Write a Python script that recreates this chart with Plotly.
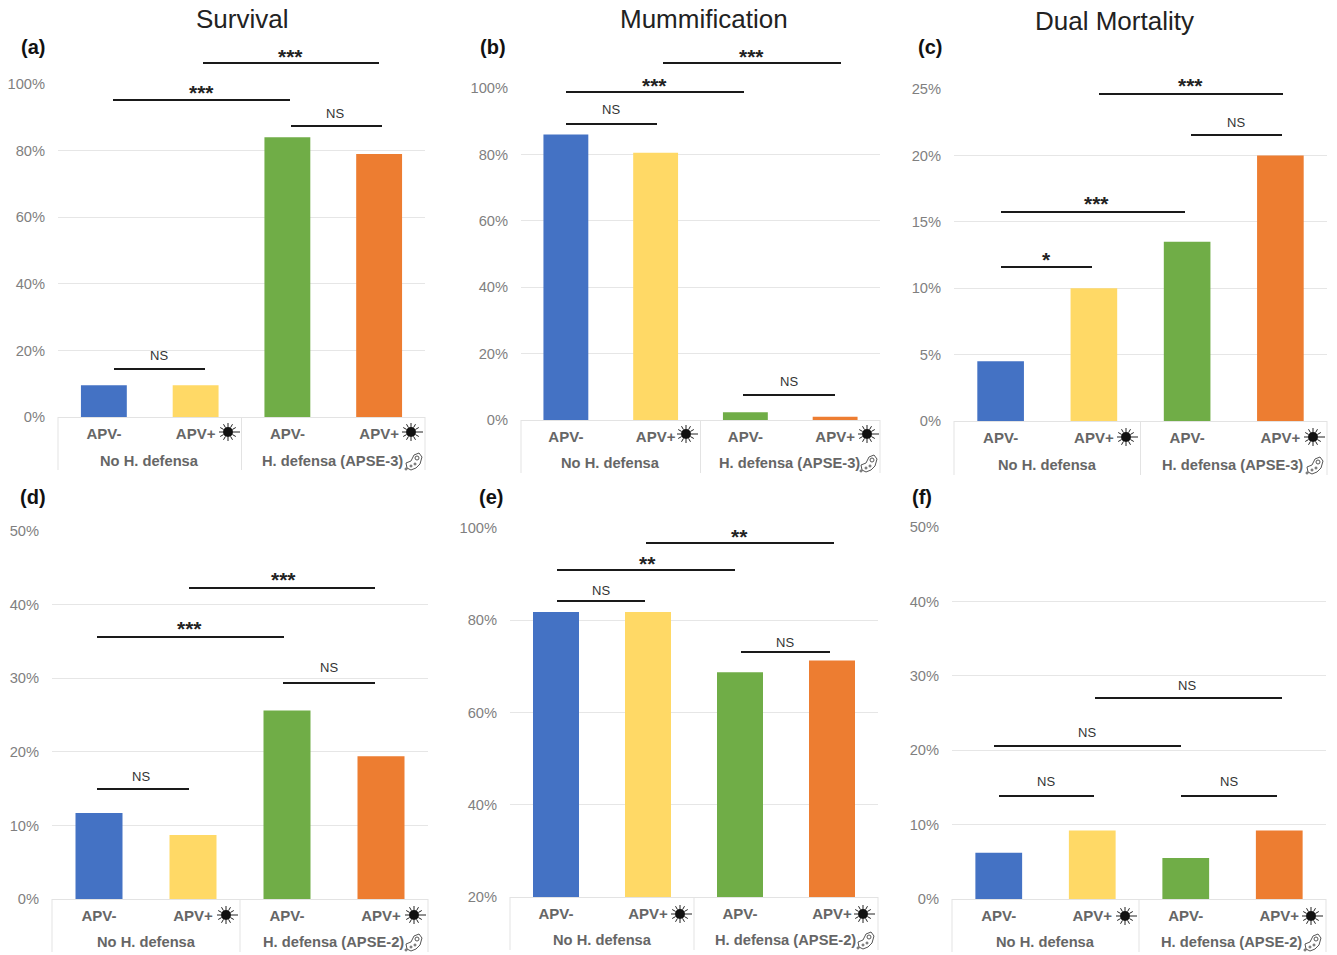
import math
import plotly.graph_objects as go

W, H = 1337, 955
treatments = ["APV-", "APV+", "APV-", "APV+"]
positions = [0, 1, 2, 3]
colors = ["#4472C4", "#FFD966", "#70AD47", "#ED7D31"]
group_none = "No H. defensa"
group_3 = "H. defensa (APSE-3)"
group_2 = "H. defensa (APSE-2)"

survival_3 = [9.5, 9.5, 84, 79]
mummy_3 = [86, 80.5, 2.3, 1]
dual_3 = [4.5, 10, 13.5, 20]
survival_2 = [11.7, 8.7, 25.6, 19.4]
mummy_2 = [81.8, 81.8, 68.7, 71.3]
dual_2 = [6.2, 9.2, 5.5, 9.2]

panel_values = [survival_3, mummy_3, dual_3, survival_2, mummy_2, dual_2]
panel_groups = [group_3, group_3, group_3, group_2, group_2, group_2]
# left, right, y pixel of axis min, y pixel of axis max, bottom of dividers, y of group label
panel_boxes = [(58, 425, 417, 84, 470, 461), (521, 880, 420, 88, 473, 463), (954, 1327, 421, 89, 475, 465),
               (52, 428, 899, 531, 952, 942), (510, 878, 897, 528, 950, 940), (952, 1326, 899, 527, 952, 942)]
panel_ranges = [(0, 100), (0, 100), (0, 25), (0, 50), (20, 100), (0, 50)]
panel_dticks = [20, 20, 5, 10, 20, 10]

titles = [("Survival", 242, 19), ("Mummification", 704, 19), ("Dual Mortality", 1114, 21)]
letters = [("(a)", 33, 47), ("(b)", 493, 47), ("(c)", 930, 47),
           ("(d)", 33, 497), ("(e)", 491, 497), ("(f)", 922, 497)]
brackets = [
    (203, 379, 63, "***", 290, 56), (113, 290, 100, "***", 201, 92), (291, 382, 126, "NS", 335, 113), (114, 205, 369, "NS", 159, 355),
    (663, 841, 63, "***", 751, 56), (566, 744, 92, "***", 654, 85), (566, 657, 124, "NS", 611, 110), (743, 835, 395, "NS", 789, 381),
    (1099, 1283, 94, "***", 1190, 86), (1191, 1282, 135, "NS", 1236, 123), (1001, 1185, 212, "***", 1096, 203), (1001, 1092, 267, "*", 1046, 260),
    (189, 375, 588, "***", 283, 579), (97, 284, 637, "***", 190, 628), (283, 375, 683, "NS", 329, 667), (97, 189, 789, "NS", 141, 776),
    (646, 834, 543, "**", 739, 536), (557, 735, 570, "**", 647, 563), (557, 645, 601, "NS", 601, 590), (741, 830, 652, "NS", 785, 642),
    (1095, 1282, 698, "NS", 1187, 685), (994, 1181, 746, "NS", 1087, 732), (999, 1094, 796, "NS", 1046, 781), (1181, 1277, 796, "NS", 1229, 781),
]
virus_icons = [(228, 432), (411, 432), (686, 434), (867, 434), (1126, 437), (1313, 437),
               (226, 915), (414, 915), (680, 914), (863, 914), (1125, 916), (1311, 916)]
microbe_icons = [(414, 461), (869, 463), (1315, 465), (414, 942), (866, 940), (1313, 942)]


def px(x):
    return x / W


def py(y):
    return 1 - (y - 8) / 939


fig = go.Figure()
layout = {}
shapes, annotations = [], []


def text(t, x, y, size, color="#111111", bold=False):
    annotations.append(dict(text=t, x=px(x), y=py(y), xref="paper", yref="paper", showarrow=False,
                            xanchor="center", yanchor="middle",
                            font=dict(family="Liberation Sans", size=size, color=color,
                                      weight="bold" if bold else "normal")))


def seg(x0, y0, x1, y1, color, width):
    shapes.append(dict(type="line", xref="paper", yref="paper", x0=px(x0), x1=px(x1), y0=py(y0), y1=py(y1),
                       line=dict(color=color, width=width)))


for i, (vals, grp, box, rng, dt) in enumerate(zip(panel_values, panel_groups, panel_boxes, panel_ranges, panel_dticks)):
    n = "" if i == 0 else str(i + 1)
    l, r, y0, y1, yb, yg = box
    fig.add_trace(go.Bar(x=positions, y=vals, marker=dict(color=colors, line=dict(width=0)),
                         width=0.5, xaxis="x" + n, yaxis="y" + n, showlegend=False))
    layout["xaxis" + n] = dict(domain=[px(l), px(r)], anchor="y" + n, range=[-0.5, 3.5],
                               tickmode="array", tickvals=positions, ticktext=treatments,
                               showline=True, linecolor="#e3e3e3", linewidth=1, showgrid=False, zeroline=False,
                               ticks="outside", ticklen=3, tickcolor="rgba(0,0,0,0)",
                               tickfont=dict(family="Liberation Sans", size=15, color="#666666", weight="bold"))
    layout["yaxis" + n] = dict(domain=[py(y0), py(y1)], anchor="x" + n, range=list(rng), dtick=dt, ticksuffix="%",
                               showgrid=True, gridcolor="#e6e6e6", gridwidth=1, zeroline=False, showline=False,
                               ticks="outside", ticklen=9, tickcolor="rgba(0,0,0,0)",
                               tickfont=dict(family="Liberation Sans", size=14.7, color="#7f7f7f"))
    m = (l + r) / 2
    for xd in (l, m, r):
        seg(xd, y0, xd, yb, "#e3e3e3", 1)
    text(group_none, (l + m) / 2, yg, 14.7, "#666666", True)
    text(grp, (m + r) / 2 - 1, yg, 14.7, "#666666", True)

for t, x, y in titles:
    text(t, x, y, 26, "#222222")
for t, x, y in letters:
    text(t, x, y, 20, "#111111", True)
for x0, x1, y, t, tx, ty in brackets:
    seg(x0, y, x1, y, "#1a1a1a", 2)
    if t == "NS":
        text(t, tx, ty, 13, "#333333")
    else:
        text(t, tx, ty, 21, "#222222", True)

for cx, cy in virus_icons:
    shapes.append(dict(type="circle", xref="paper", yref="paper", x0=px(cx - 5), x1=px(cx + 5), y0=py(cy + 5), y1=py(cy - 5),
                       fillcolor="#111111", line=dict(width=0)))
    for k in range(12):
        a = k * math.pi / 6
        ln = 12 if k == 0 else 9
        seg(cx + 5 * math.cos(a), cy + 5 * math.sin(a), cx + ln * math.cos(a), cy + ln * math.sin(a), "#222222", 1)

for cx, cy in microbe_icons:
    pts = [(-7, 7), (-8, 2), (-3, 0), (0, -6), (5, -8), (8, -4), (6, 3), (2, 7), (-3, 9)]
    d = "M " + " L ".join(f"{px(cx + a):.5f},{py(cy + b):.5f}" for a, b in pts) + " Z"
    shapes.append(dict(type="path", xref="paper", yref="paper", path=d, line=dict(color="#555555", width=1)))
    for a, b, rr in [(3, -3, 2), (-3, 5, 1), (1, 3, 1), (-8, 8, 1)]:
        shapes.append(dict(type="circle", xref="paper", yref="paper", x0=px(cx + a - rr), x1=px(cx + a + rr),
                           y0=py(cy + b + rr), y1=py(cy + b - rr), line=dict(color="#555555", width=1)))

fig.update_layout(width=W, height=H, margin=dict(l=0, r=0, t=0, b=0), paper_bgcolor="white", plot_bgcolor="white",
                  shapes=shapes, annotations=annotations, **layout)
fig.write_html("out.html", config={"displayModeBar": False}, post_script="document.body.style.margin='0';")
